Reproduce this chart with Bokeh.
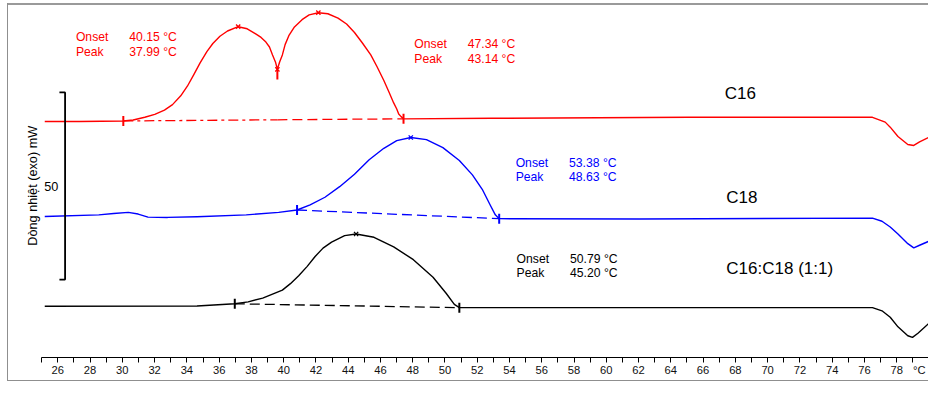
import math
import numpy as np
from bokeh.plotting import figure
from bokeh.models import Range1d, FixedTicker
from bokeh.models import Label
from bokeh.embed import file_html
from bokeh.resources import INLINE

FONT = "Liberation Sans"

# ---------------- data: temperature (°C) and heat flow (mW, stacked offsets) ----------------
c16_T = [25.19, 27.32, 30.06, 30.67, 31.39, 32.01, 32.61, 33.11, 33.62, 34.03, 34.43, 34.82,
         35.24, 35.61, 36.05, 36.52, 37.18, 37.74, 38.29, 38.60, 38.90, 39.12, 39.31, 39.49,
         39.61, 39.75, 39.92, 40.09, 40.32, 40.67, 41.14, 41.58, 42.15, 42.74, 43.37, 43.90,
         44.39, 44.87, 45.40, 45.79, 46.21, 46.52, 46.82, 47.01, 47.13, 47.28, 47.43, 52.92,
         65.10, 76.50, 77.29, 77.60, 78.08, 78.69, 79.06, 79.42, 79.97]
c16_mW = [69.74, 69.74, 69.87, 70.13, 70.85, 71.64, 72.77, 74.23, 76.59, 79.15, 82.26, 85.38,
          88.38, 90.56, 92.51, 93.90, 95.05, 94.49, 93.08, 92.18, 90.95, 89.62, 87.51, 85.64,
          83.67, 85.64, 87.51, 90.26, 92.64, 95.00, 96.92, 98.21, 98.79, 98.51, 97.36, 95.77,
          93.51, 90.77, 87.51, 84.36, 80.69, 77.69, 74.69, 73.08, 71.72, 71.03, 70.44, 70.59,
          70.85, 70.85, 69.56, 68.21, 65.72, 63.59, 63.33, 64.28, 65.46]

c18_T = [25.19, 28.54, 29.46, 30.37, 30.98, 31.59, 32.81, 34.63, 37.68, 39.69, 40.83, 41.64,
         42.56, 43.47, 44.39, 45.30, 46.21, 47.01, 47.88, 48.85, 49.87, 50.89, 51.70, 52.31,
         52.81, 53.12, 53.36, 62.06, 76.50, 77.09, 77.60, 78.08, 78.69, 79.06, 79.42, 79.97]
c18_mW = [44.36, 44.79, 45.13, 45.46, 45.00, 44.18, 44.10, 44.28, 44.79, 45.46, 46.08, 47.44,
          49.49, 52.31, 55.64, 59.49, 62.56, 64.62, 65.46, 64.87, 62.74, 59.31, 55.46, 51.62,
          47.36, 44.79, 43.77, 43.67, 43.92, 43.08, 41.54, 39.67, 37.10, 35.97, 36.67, 37.69]

mix_T = [25.19, 34.63, 36.97, 37.80, 38.70, 39.92, 40.42, 40.93, 41.46, 41.95, 42.44, 42.97,
         43.78, 44.49, 45.60, 46.82, 48.04, 49.26, 50.07, 50.58, 50.89, 62.06, 76.50, 77.09,
         77.60, 78.08, 78.69, 78.98, 79.32, 79.97]
mix_mW = [20.38, 20.44, 21.03, 21.54, 22.56, 24.69, 26.41, 28.54, 31.03, 33.67, 35.90, 37.51,
          39.23, 39.67, 38.79, 36.23, 32.82, 28.13, 23.85, 20.85, 20.00, 20.00, 20.00, 19.15,
          17.44, 14.87, 12.49, 12.05, 13.15, 15.72]

# integration limits (start / end) and peaks
c16_lim_T, c16_lim_mW = [30.06, 47.43], [69.87, 70.44]
c16_peak_T, c16_peak_mW = [37.18, 39.61, 42.15], [95.05, 83.67, 98.79]
c16_split_T, c16_split_mW = [39.61], [82.31]
c18_lim_T, c18_lim_mW = [40.83, 53.36], [46.08, 43.77]
c18_peak_T, c18_peak_mW = [47.88], [65.46]
mix_lim_T, mix_lim_mW = [36.97, 50.89], [21.03, 20.00]
mix_peak_T, mix_peak_mW = [44.49], [39.67]

# result texts
c16_res1 = ["40.15 °C", "37.99 °C"]
c16_res2 = ["47.34 °C", "43.14 °C"]
c18_res = ["53.38 °C", "48.63 °C"]
mix_res = ["50.79 °C", "45.20 °C"]
series_names = ["C16", "C18", "C16:C18 (1:1)"]

tick_labels_at = list(range(26, 80, 2))
unit_tick = 79.4
tick_marks_at = list(range(25, 81))
scale_bar_mW = 50
scale_bar_bottom = 27.5

RED, BLUE, BLACK = "#ff0000", "#0000ff", "#000000"

p = figure(frame_width=928, frame_height=357,
           x_range=Range1d(22.447, 79.973), y_range=Range1d(6.68, 102.05),
           output_backend="svg", toolbar_location=None, y_axis_location=None,
           min_border=0)
p.min_border_left = p.min_border_right = p.min_border_top = 0
p.min_border_bottom = 25
p.outline_line_color = None
p.xgrid.visible = False
p.ygrid.visible = False
p.background_fill_color = None
p.border_fill_color = None
p.styles = {"box-shadow": ("inset 7px 0 0 0 #ffffff, inset 0 3px 0 0 #ffffff, "
                           "inset 0 -1px 0 0 #ffffff, "
                           "inset 8px 0 0 0 #8f8f8f, inset 0 5px 0 0 #9a9a9a, "
                           "inset 0 -2px 0 0 #8f8f8f")}

ax = p.xaxis[0]
ax.ticker = FixedTicker(ticks=tick_labels_at + [unit_tick], minor_ticks=tick_marks_at)
ax.major_label_overrides = {unit_tick: "°C"}
ax.bounds = (25, 80)
ax.axis_line_color = "#000000"
ax.axis_line_width = 1
ax.major_tick_in = 0
ax.major_tick_out = 6
ax.major_tick_line_color = None
ax.minor_tick_in = 0
ax.minor_tick_out = 5
ax.minor_tick_line_color = "#000000"
ax.major_label_standoff = 0
ax.major_label_text_font = FONT
ax.major_label_text_font_size = "11.2px"
ax.major_label_text_color = "#111111"

# curves
for T, mW, col in [(c16_T, c16_mW, RED), (c18_T, c18_mW, BLUE), (mix_T, mix_mW, BLACK)]:
    p.line(T, mW, line_color=col, line_width=1.4, line_join="round")

# baselines
split_T = c16_split_T[0]
split_mW = float(np.interp(split_T, c16_lim_T, c16_lim_mW))
p.line([c16_lim_T[0], split_T], [c16_lim_mW[0], split_mW], line_color=RED,
       line_width=1.3, line_dash="10 4 3 4")
p.line([split_T, c16_lim_T[1]], [split_mW, c16_lim_mW[1]], line_color=RED,
       line_width=1.3, line_dash="10 5")
p.line(c18_lim_T, c18_lim_mW, line_color=BLUE, line_width=1.3, line_dash="10 5")
p.line(mix_lim_T, mix_lim_mW, line_color=BLACK, line_width=1.3, line_dash="10 5")

# markers
for T, mW, col in [(c16_lim_T, c16_lim_mW, RED), (c16_split_T, c16_split_mW, RED),
                   (c18_lim_T, c18_lim_mW, BLUE), (mix_lim_T, mix_lim_mW, BLACK)]:
    p.scatter(T, mW, marker="dash", angle=math.pi / 2, size=10, line_color=col, line_width=2)
for T, mW, col in [(c16_peak_T, c16_peak_mW, RED), (c18_peak_T, c18_peak_mW, BLUE),
                   (mix_peak_T, mix_peak_mW, BLACK)]:
    p.scatter(T, mW, marker="x", size=6, line_color=col, line_width=1.3)

# scale bar
x_bar, x_cap = 26.45, 26.10
p.line([x_cap, x_bar, x_bar, x_cap],
       [scale_bar_bottom + scale_bar_mW, scale_bar_bottom + scale_bar_mW,
        scale_bar_bottom, scale_bar_bottom],
       line_color=BLACK, line_width=1.8)


def lab(x, y, text, color="#000000", size="12.2px", align="left", angle=0.0):
    p.add_layout(Label(x=x, y=y, text=text, text_color=color, text_font=FONT,
                       text_font_size=size, text_align=align, text_baseline="middle",
                       angle=angle))


lab(25.60, 52.49, str(scale_bar_mW), size="12.7px", align="center")
lab(24.48, 52.56, "Dòng nhiệt (exo) mW", size="12.7px", align="center", angle=math.pi / 2)

for (xo, xv, yo, yp, res, col) in [
        (27.12, 30.43, 92.38, 88.38, c16_res1, RED),
        (48.10, 51.41, 90.51, 86.49, c16_res2, RED),
        (54.38, 57.69, 58.64, 54.87, c18_res, BLUE),
        (54.44, 57.75, 33.00, 29.15, mix_res, BLACK)]:
    lab(xo, yo, "Onset", col)
    lab(xo, yp, "Peak", col)
    lab(xv, yo, res[0], col)
    lab(xv, yp, res[1], col)

lab(67.34, 77.26, series_names[0], size="17px")
lab(67.44, 49.49, series_names[1], size="17px")
lab(67.44, 30.51, series_names[2], size="17px")

open("out.html", "w").write(file_html(p, INLINE))
